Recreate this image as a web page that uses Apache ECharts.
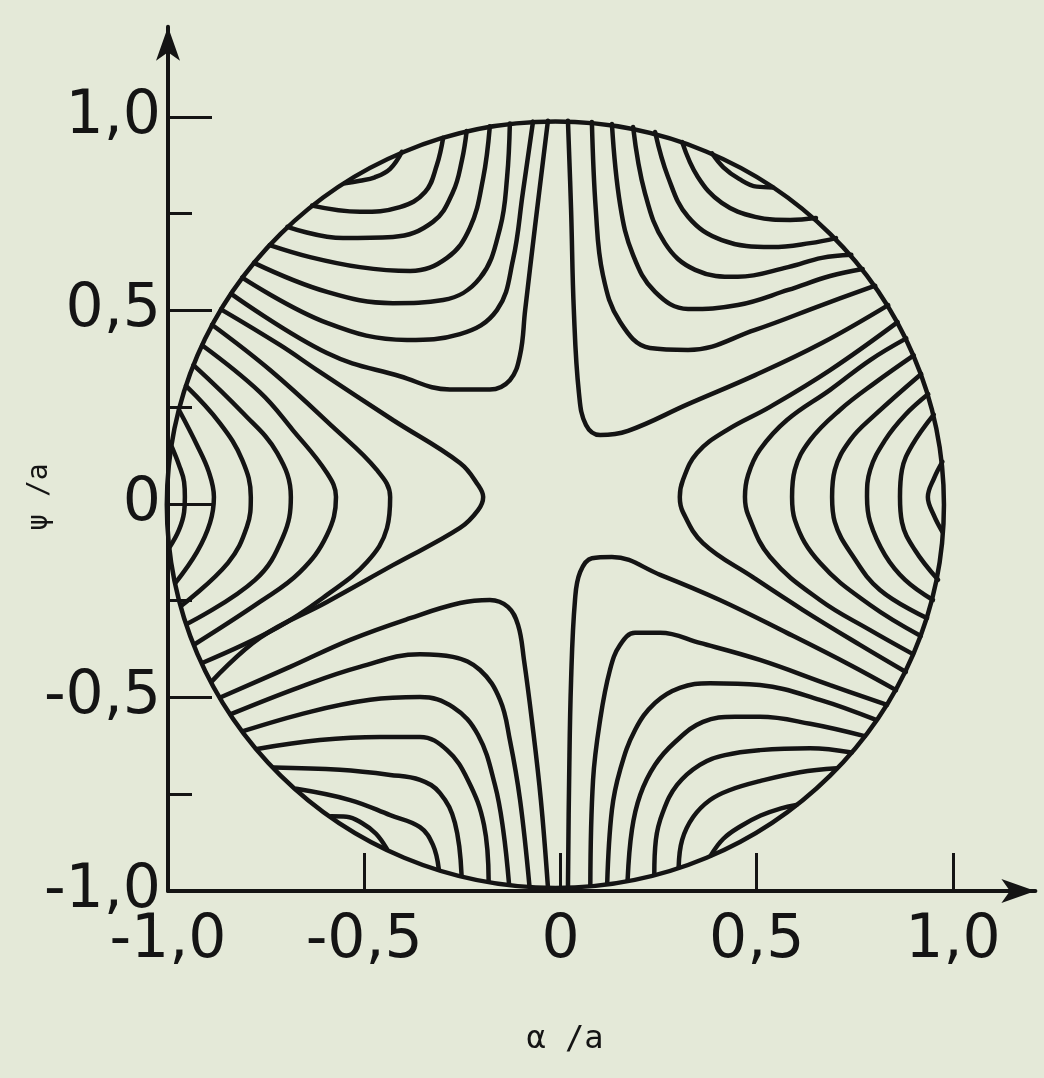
<!DOCTYPE html>
<html>
<head>
<meta charset="utf-8">
<script src="https://cdn.jsdelivr.net/npm/echarts@6/dist/echarts.min.js"></script>
<style>
html,body{margin:0;padding:0;background:#e4e9d8;}
#chart{width:1044px;height:1078px;}
</style>
</head>
<body>
<div id="chart"></div>
<script>
// tick positions (x/a and y/a)
const xTickValues = [-1, -0.5, 0, 0.5, 1];
const yMajorTicks = [-1, -0.5, 0, 0.5, 1];
const yMinorTicks = [-0.75, -0.25, 0.25, 0.75];

// circular cross-section: centre (x/a, y/a) and radius
const boundaryCenter = [-0.013, -0.002];
const boundaryRadius = 0.99;

// upper-left family (left edge to top edge)
const ulLoop = [[-0.549,0.829],[-0.511,0.835],[-0.473,0.844],[-0.434,0.866],[-0.404,0.910]];
const ul1 = [[-0.633,0.771],[-0.511,0.755],[-0.409,0.767],[-0.345,0.806],[-0.315,0.876],[-0.299,0.946]];
const ul2 = [[-0.696,0.716],[-0.554,0.687],[-0.427,0.690],[-0.325,0.729],[-0.274,0.806],[-0.251,0.889],[-0.239,0.964]];
const ul3 = [[-0.741,0.669],[-0.638,0.638],[-0.511,0.612],[-0.383,0.602],[-0.289,0.636],[-0.231,0.713],[-0.197,0.842],[-0.180,0.976]];
const ul4 = [[-0.781,0.623],[-0.595,0.548],[-0.427,0.519],[-0.299,0.527],[-0.205,0.584],[-0.154,0.713],[-0.136,0.845],[-0.129,0.983]];
const ul5 = [[-0.811,0.585],[-0.595,0.468],[-0.391,0.424],[-0.256,0.439],[-0.162,0.501],[-0.121,0.631],[-0.096,0.804],[-0.070,0.988]];
const ul6 = [[-0.839,0.543],[-0.595,0.390],[-0.409,0.330],[-0.282,0.296],[-0.180,0.296],[-0.129,0.320],[-0.103,0.385],[-0.090,0.501],[-0.065,0.716],[-0.032,0.990]];

// upper-right family (top edge to right edge)
const urLoop = [[0.386,0.906],[0.415,0.870],[0.455,0.840],[0.500,0.820],[0.541,0.818]];
const ur1 = [[0.019,0.990],[0.027,0.760],[0.034,0.501],[0.047,0.287],[0.065,0.204],[0.101,0.178],[0.172,0.189],[0.325,0.258],[0.496,0.333],[0.666,0.416],[0.835,0.514]];
const ur2 = [[0.080,0.987],[0.090,0.760],[0.108,0.592],[0.152,0.470],[0.228,0.403],[0.325,0.398],[0.496,0.450],[0.666,0.514],[0.802,0.564]];
const ur3 = [[0.131,0.982],[0.152,0.773],[0.185,0.643],[0.241,0.548],[0.325,0.504],[0.452,0.514],[0.580,0.553],[0.687,0.589],[0.770,0.607]];
const ur4 = [[0.185,0.974],[0.215,0.804],[0.266,0.674],[0.343,0.605],[0.452,0.587],[0.580,0.612],[0.666,0.636],[0.741,0.644]];
const ur5 = [[0.241,0.961],[0.274,0.845],[0.325,0.742],[0.411,0.682],[0.539,0.664],[0.636,0.674],[0.702,0.687]];
const ur6 = [[0.310,0.935],[0.350,0.845],[0.411,0.778],[0.496,0.742],[0.585,0.734],[0.651,0.739]];

// left lobe (both ends on the left edge)
const left1 = [[-0.990,0.147],[-0.972,0.101],[-0.959,0.057],[-0.957,0.018],[-0.959,-0.021],[-0.972,-0.067],[-0.996,-0.112]];
const left2 = [[-0.971,0.241],[-0.926,0.152],[-0.896,0.083],[-0.883,0.018],[-0.893,-0.049],[-0.926,-0.124],[-0.981,-0.204]];
const left3 = [[-0.954,0.305],[-0.868,0.209],[-0.811,0.114],[-0.789,0.018],[-0.799,-0.059],[-0.847,-0.152],[-0.966,-0.263]];
const left4 = [[-0.935,0.359],[-0.809,0.235],[-0.722,0.132],[-0.687,0.018],[-0.707,-0.085],[-0.778,-0.196],[-0.952,-0.310]];
const left5 = [[-0.913,0.410],[-0.766,0.289],[-0.682,0.191],[-0.595,0.080],[-0.572,0.018],[-0.595,-0.080],[-0.664,-0.176],[-0.766,-0.253],[-0.933,-0.363]];
const left6 = [[-0.888,0.463],[-0.740,0.346],[-0.580,0.199],[-0.468,0.088],[-0.434,0.018],[-0.442,-0.062],[-0.493,-0.150],[-0.595,-0.235],[-0.722,-0.320],[-0.913,-0.411]];
const left7 = [[-0.865,0.503],[-0.715,0.411],[-0.620,0.346],[-0.427,0.217],[-0.256,0.106],[-0.210,0.049],[-0.197,0.018],[-0.210,-0.016],[-0.256,-0.062],[-0.427,-0.158],[-0.595,-0.253],[-0.766,-0.346],[-0.889,-0.459]];

// right lobe (both ends on the right edge)
const right1 = [[0.973,0.109],[0.952,0.067],[0.936,0.018],[0.952,-0.031],[0.973,-0.072]];
const right2 = [[0.951,0.231],[0.896,0.152],[0.870,0.088],[0.865,0.018],[0.870,-0.047],[0.903,-0.119],[0.962,-0.196]];
const right3 = [[0.937,0.284],[0.878,0.230],[0.827,0.165],[0.789,0.088],[0.781,0.018],[0.789,-0.047],[0.827,-0.132],[0.878,-0.196],[0.949,-0.248]];
const right4 = [[0.919,0.336],[0.801,0.230],[0.738,0.165],[0.699,0.088],[0.692,0.018],[0.699,-0.047],[0.743,-0.132],[0.814,-0.222],[0.934,-0.295]];
const right5 = [[0.900,0.384],[0.801,0.313],[0.712,0.243],[0.636,0.165],[0.597,0.088],[0.590,0.018],[0.597,-0.041],[0.661,-0.152],[0.789,-0.261],[0.918,-0.341]];
const right6 = [[0.881,0.428],[0.789,0.372],[0.687,0.295],[0.577,0.217],[0.508,0.140],[0.478,0.075],[0.470,0.018],[0.478,-0.028],[0.534,-0.137],[0.661,-0.248],[0.789,-0.326],[0.898,-0.388]];
const right7 = [[0.859,0.470],[0.687,0.346],[0.534,0.251],[0.424,0.191],[0.348,0.132],[0.312,0.062],[0.304,0.018],[0.312,-0.021],[0.363,-0.101],[0.490,-0.189],[0.618,-0.274],[0.763,-0.364],[0.880,-0.434]];

// lower-left family (left edge to bottom edge)
const llLoop = [[-0.585,-0.807],[-0.545,-0.808],[-0.505,-0.825],[-0.470,-0.852],[-0.442,-0.892]];
const ll1 = [[-0.867,-0.500],[-0.689,-0.421],[-0.536,-0.351],[-0.383,-0.295],[-0.256,-0.256],[-0.180,-0.248],[-0.134,-0.266],[-0.108,-0.313],[-0.093,-0.403],[-0.073,-0.558],[-0.050,-0.765],[-0.032,-0.990]];
const ll2 = [[-0.840,-0.543],[-0.664,-0.473],[-0.511,-0.421],[-0.358,-0.388],[-0.274,-0.395],[-0.205,-0.429],[-0.154,-0.506],[-0.129,-0.610],[-0.103,-0.765],[-0.079,-0.988]];
const ll3 = [[-0.809,-0.587],[-0.638,-0.537],[-0.485,-0.506],[-0.358,-0.499],[-0.274,-0.525],[-0.210,-0.597],[-0.167,-0.726],[-0.146,-0.842],[-0.131,-0.983]];
const ll4 = [[-0.773,-0.633],[-0.613,-0.610],[-0.460,-0.602],[-0.358,-0.602],[-0.289,-0.636],[-0.236,-0.713],[-0.195,-0.829],[-0.183,-0.975]];
const ll5 = [[-0.730,-0.681],[-0.562,-0.687],[-0.434,-0.700],[-0.358,-0.713],[-0.307,-0.747],[-0.269,-0.824],[-0.252,-0.960]];
const ll6 = [[-0.673,-0.736],[-0.536,-0.765],[-0.434,-0.804],[-0.358,-0.835],[-0.325,-0.881],[-0.310,-0.944]];

// lower-right family (bottom edge to right edge)
const lrLoop = [[0.383,-0.908],[0.415,-0.865],[0.460,-0.832],[0.510,-0.805],[0.560,-0.787],[0.601,-0.778]];
const lr1 = [[0.019,-0.990],[0.022,-0.713],[0.027,-0.455],[0.037,-0.248],[0.050,-0.176],[0.080,-0.140],[0.131,-0.137],[0.254,-0.183],[0.406,-0.248],[0.577,-0.333],[0.738,-0.416],[0.855,-0.481]];
const lr2 = [[0.076,-0.986],[0.083,-0.713],[0.101,-0.558],[0.126,-0.429],[0.152,-0.364],[0.190,-0.333],[0.254,-0.333],[0.355,-0.359],[0.508,-0.403],[0.687,-0.468],[0.832,-0.519]];
const lr3 = [[0.119,-0.981],[0.131,-0.791],[0.152,-0.687],[0.190,-0.584],[0.241,-0.514],[0.304,-0.475],[0.381,-0.463],[0.508,-0.468],[0.661,-0.506],[0.804,-0.558]];
const lr4 = [[0.171,-0.972],[0.182,-0.842],[0.203,-0.752],[0.241,-0.674],[0.292,-0.615],[0.363,-0.563],[0.445,-0.550],[0.508,-0.550],[0.636,-0.568],[0.775,-0.600]];
const lr5 = [[0.239,-0.957],[0.243,-0.868],[0.261,-0.796],[0.297,-0.726],[0.355,-0.674],[0.419,-0.649],[0.508,-0.636],[0.636,-0.631],[0.742,-0.642]];
const lr6 = [[0.301,-0.939],[0.310,-0.868],[0.338,-0.809],[0.381,-0.765],[0.432,-0.739],[0.508,-0.716],[0.610,-0.693],[0.704,-0.683]];

const contours = [
  ulLoop, ul1, ul2, ul3, ul4, ul5, ul6,
  urLoop, ur1, ur2, ur3, ur4, ur5, ur6,
  left1, left2, left3, left4, left5, left6, left7,
  right1, right2, right3, right4, right5, right6, right7,
  llLoop, ll1, ll2, ll3, ll4, ll5, ll6,
  lrLoop, lr1, lr2, lr3, lr4, lr5, lr6
];

const INK = '#141414';
const PAPER = '#e4e9d8';
const labelFont = 'DejaVu Sans';
const nameFont = '"DejaVu Sans Mono", "Liberation Mono", monospace';

function fmt(v) {
  if (v === 0) return '0';
  const s = Math.abs(v).toFixed(1).replace('.', ',');
  return (v < 0 ? '-' : '') + s;
}

// boundary circle drawn in data coordinates
const boundarySeries = {
  type: 'custom',
  data: [[boundaryCenter[0], boundaryCenter[1], boundaryRadius]],
  clip: false,
  silent: true,
  z: 3,
  renderItem: function (params, api) {
    const c = api.coord([api.value(0), api.value(1)]);
    const s = api.size([api.value(2), api.value(2)]);
    return {
      type: 'ellipse',
      shape: { cx: c[0], cy: c[1], rx: s[0], ry: s[1] },
      style: { fill: 'none', stroke: INK, lineWidth: 4.5 }
    };
  }
};

const series = [boundarySeries].concat(contours.map(c => ({
  type: 'line', data: c, smooth: 0.4, symbol: 'none', clip: false,
  lineStyle: { color: INK, width: 4.5, cap: 'round' }, silent: true
})));

const chart = echarts.init(document.getElementById('chart'), null, { renderer: 'canvas' });
chart.setOption({
  backgroundColor: PAPER,
  animation: false,
  grid: { left: 168, right: 8.6, top: 26.8, bottom: 187 },
  xAxis: {
    type: 'value', min: -1, max: 1.21,
    splitLine: { show: false },
    axisLine: { onZero: false, lineStyle: { color: INK, width: 4 }, symbol: ['none', 'arrow'], symbolSize: [18, 34] },
    axisTick: { inside: true, length: 38, lineStyle: { color: INK, width: 3 }, customValues: [-0.5, 0, 0.5, 1] },
    axisLabel: { customValues: xTickValues, formatter: fmt, fontFamily: labelFont, fontSize: 60, color: INK, margin: 20 }
  },
  yAxis: [{
    type: 'value', min: -1, max: 1.233,
    splitLine: { show: false },
    axisLine: { onZero: false, lineStyle: { color: INK, width: 4 }, symbol: ['none', 'arrow'], symbolSize: [18, 34] },
    axisTick: { inside: true, length: 44, lineStyle: { color: INK, width: 3 }, customValues: yMajorTicks },
    axisLabel: { customValues: yMajorTicks, formatter: fmt, fontFamily: labelFont, fontSize: 60, color: INK, margin: 7 }
  }, {
    type: 'value', min: -1, max: 1.233, position: 'left',
    splitLine: { show: false },
    axisLine: { show: false, onZero: false },
    axisTick: { inside: true, length: 24, lineStyle: { color: INK, width: 3 }, customValues: yMinorTicks },
    axisLabel: { show: false }
  }],
  graphic: [
    { type: 'text', x: 565, y: 1040, style: { text: 'α /a', align: 'center', verticalAlign: 'middle', font: '32px ' + nameFont, fill: INK } },
    { type: 'text', x: 40, y: 497, rotation: Math.PI / 2, style: { text: 'ψ /a', align: 'center', verticalAlign: 'middle', font: '28px ' + nameFont, fill: INK } }
  ],
  series: series
});
</script>
</body>
</html>
